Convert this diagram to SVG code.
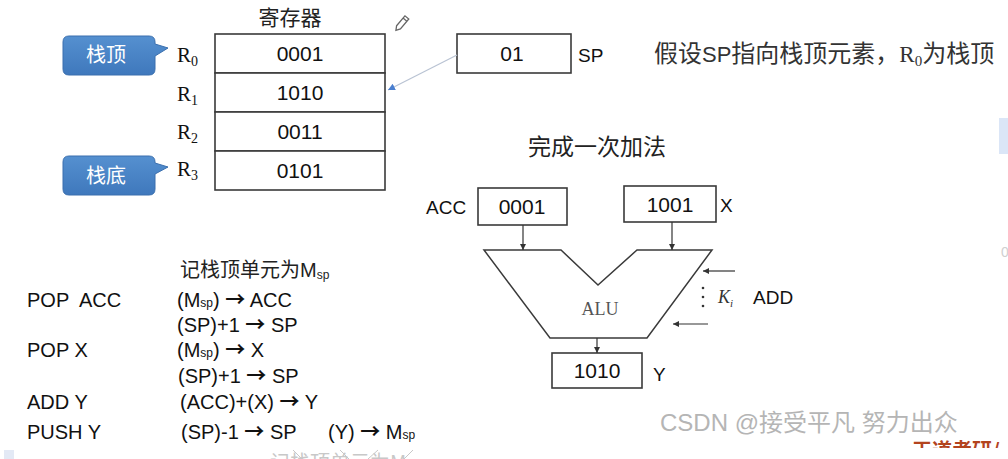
<svg xmlns="http://www.w3.org/2000/svg" width="1008" height="459" viewBox="0 0 1008 459">
<defs>
<linearGradient id="blue" x1="0" y1="0" x2="0" y2="1">
<stop offset="0" stop-color="#5590d0"/>
<stop offset="1" stop-color="#3f78bc"/>
</linearGradient>
<marker id="ah" viewBox="0 0 10 10" refX="10" refY="5" markerWidth="6" markerHeight="6" orient="auto" markerUnits="userSpaceOnUse">
<path d="M0,0 L10,5 L0,10 z" fill="#333"/>
</marker>
<marker id="ahb" viewBox="0 0 10 10" refX="10" refY="5" markerWidth="7" markerHeight="7" orient="auto" markerUnits="userSpaceOnUse">
<path d="M0,0 L10,5 L0,10 z" fill="#4a7fd0"/>
</marker>
<clipPath id="cut"><rect x="900" y="430" width="108" height="18"/></clipPath>
</defs>
<style>
.box{fill:#fff;stroke:#3a3a3a;stroke-width:1.6}
.sans{font-family:"Liberation Sans","Noto Sans CJK SC",sans-serif;fill:#111}
.cjk{font-family:"Noto Sans CJK SC","Liberation Sans",sans-serif;fill:#222}
.serif{font-family:"Liberation Serif","Noto Sans CJK SC",serif;fill:#111}
.val{font-size:21px;text-anchor:middle}
.lbl{font-size:19px}
.code{font-size:20px;white-space:pre}
.ar{font-family:"Noto Sans CJK SC",sans-serif;font-weight:bold;font-size:20px}
.wire{stroke:#333;stroke-width:1.2;fill:none}
.call{fill:url(#blue);stroke:#3a6fae;stroke-width:1}
.ctext{font-family:"Noto Sans CJK SC",sans-serif;font-size:20px;fill:#fff;text-anchor:middle}
</style>
<rect width="1008" height="459" fill="#fff"/>

<!-- background fragments -->
<rect x="999" y="118" width="9" height="36" fill="#dbe6f7"/>
<rect x="4" y="450" width="10" height="9" fill="#e3e9f5"/>
<text x="1001" y="257" class="sans" font-size="14" style="fill:#d0d0d0">0</text>

<!-- title -->
<text x="290" y="25" class="cjk" font-size="21" text-anchor="middle">寄存器</text>

<!-- pencil icon -->
<g id="pencil" transform="translate(403,22) rotate(-50)" fill="none" stroke="#666" stroke-width="1.3">
<path d="M-7,-2.5 L6,-2.5 L6,2.5 L-7,2.5 L-11,0 Z"/>
<line x1="3" y1="-2.5" x2="3" y2="2.5"/>
</g>

<!-- callouts -->
<g id="callout-top">
<path class="call" d="M69,36 H149 Q155,36 155,42 V44 L168,48 L155,56 V69 Q155,75 149,75 H69 Q63,75 63,69 V42 Q63,36 69,36 Z"/>
<text x="106" y="62" class="ctext">栈顶</text>
</g>
<g id="callout-bottom">
<path class="call" d="M69,156 H149 Q155,156 155,162 V163 L168,167 L155,174 V189 Q155,195 149,195 H69 Q63,195 63,189 V162 Q63,156 69,156 Z"/>
<text x="106" y="183" class="ctext">栈底</text>
</g>

<!-- register labels -->
<g id="reg-labels" class="serif" font-size="21">
<text x="177" y="62">R<tspan font-size="14" dy="4">0</tspan></text>
<text x="177" y="101">R<tspan font-size="14" dy="4">1</tspan></text>
<text x="177" y="139">R<tspan font-size="14" dy="4">2</tspan></text>
<text x="177" y="176">R<tspan font-size="14" dy="4">3</tspan></text>
</g>

<!-- registers -->
<g id="reg-R0"><rect class="box" x="215" y="34" width="170" height="39"/><text x="300" y="61" class="sans val">0001</text></g>
<g id="reg-R1"><rect class="box" x="215" y="73" width="170" height="39"/><text x="300" y="100" class="sans val">1010</text></g>
<g id="reg-R2"><rect class="box" x="215" y="112" width="170" height="39"/><text x="300" y="139" class="sans val">0011</text></g>
<g id="reg-R3"><rect class="box" x="215" y="151" width="170" height="39"/><text x="300" y="178" class="sans val">0101</text></g>

<!-- SP -->
<g id="sp">
<rect class="box" x="457" y="34" width="114" height="39"/>
<text x="512" y="61" class="sans val">01</text>
<text x="578" y="62" class="sans lbl">SP</text>
</g>
<text x="654" y="62" class="cjk" font-size="24" style="fill:#333">假设<tspan font-family="Liberation Sans" font-size="22">SP</tspan>指向栈顶元素，<tspan font-family="Liberation Serif" font-size="23">R</tspan><tspan font-family="Liberation Serif" font-size="15" dy="4">0</tspan><tspan dy="-4">为栈顶</tspan></text>

<!-- ALU section -->
<text x="597" y="155" class="cjk" font-size="23" text-anchor="middle">完成一次加法</text>
<g id="acc">
<text x="426" y="214" class="sans lbl">ACC</text>
<rect class="box" x="478" y="188" width="89" height="37"/>
<text x="522" y="214" class="sans val">0001</text>
</g>
<g id="x">
<rect class="box" x="624" y="186" width="92" height="36"/>
<text x="670" y="212" class="sans val">1001</text>
<text x="720" y="212" class="sans lbl">X</text>
</g>
<g id="alu">
<path d="M484,250 L561,250 L598,285 L637,250 L712,250 L647,338 L550,338 Z" fill="#fff" stroke="#3a3a3a" stroke-width="1.5"/>
<text x="600" y="315" class="serif" font-size="18" text-anchor="middle" style="fill:#555">ALU</text>
</g>
<g id="control">
<circle cx="703" cy="288" r="1.3" fill="#333"/>
<circle cx="703" cy="297" r="1.3" fill="#333"/>
<circle cx="703" cy="306" r="1.3" fill="#333"/>
<text x="718" y="303" class="serif" font-size="18" font-style="italic" style="fill:#333">K<tspan font-size="11" dy="4">i</tspan></text>
<text x="753" y="304" class="sans lbl">ADD</text>
</g>
<g id="y">
<rect class="box" x="552" y="353" width="90" height="35"/>
<text x="597" y="378" class="sans val">1010</text>
<text x="653" y="381" class="sans lbl">Y</text>
</g>

<!-- connectors -->
<g id="connectors">
<line x1="457" y1="55" x2="388" y2="90" stroke="#b9c3d3" stroke-width="1.2" marker-end="url(#ahb)"/>
<line class="wire" x1="523" y1="225" x2="523" y2="250" marker-end="url(#ah)"/>
<line class="wire" x1="672" y1="222" x2="672" y2="250" marker-end="url(#ah)"/>
<line class="wire" x1="597" y1="338" x2="597" y2="353" marker-end="url(#ah)"/>
<line class="wire" x1="735" y1="271" x2="703" y2="271" marker-end="url(#ah)"/>
<line class="wire" x1="708" y1="324" x2="673" y2="324" marker-end="url(#ah)"/>
</g>

<!-- instruction list -->
<g id="code">
<text x="180" y="277" class="cjk" font-size="20">记栈顶单元为<tspan font-family="Liberation Sans" font-size="20">M</tspan><tspan font-family="Liberation Sans" font-size="12" dy="2">sp</tspan></text>
<text x="27" y="307" class="sans code">POP  ACC</text>
<text x="177" y="307" class="sans code">(M<tspan font-size="12">sp</tspan>) <tspan class="ar">→</tspan> ACC</text>
<text x="177" y="332" class="sans code">(SP)+1 <tspan class="ar">→</tspan> SP</text>
<text x="27" y="357" class="sans code">POP X</text>
<text x="177" y="357" class="sans code">(M<tspan font-size="12">sp</tspan>) <tspan class="ar">→</tspan> X</text>
<text x="178" y="383" class="sans code">(SP)+1 <tspan class="ar">→</tspan> SP</text>
<text x="27" y="409" class="sans code">ADD Y</text>
<text x="180" y="409" class="sans code">(ACC)+(X) <tspan class="ar">→</tspan> Y</text>
<text x="27" y="439" class="sans code">PUSH Y</text>
<text x="181" y="439" class="sans code">(SP)-1 <tspan class="ar">→</tspan> SP</text>
<text x="328" y="439" class="sans code">(Y) <tspan class="ar">→</tspan> M<tspan font-size="12">sp</tspan></text>
</g>

<!-- watermark and cut-off fragments -->
<text x="660" y="431" font-family="Liberation Sans,Noto Sans CJK SC,sans-serif" font-size="24" fill="#b5b5b5">CSDN @接受平凡 努力出众</text>
<text x="912" y="458" clip-path="url(#cut)" font-family="Noto Sans CJK SC,sans-serif" font-size="20" font-weight="bold" fill="#b3441e">王道考研/</text>
<text x="270" y="470" font-family="Noto Sans CJK SC,sans-serif" font-size="20" fill="#c8c8c8">记栈顶单元为M</text>
<g stroke="#c8c8c8" stroke-width="1" fill="none">
<line x1="293" y1="450" x2="302" y2="459"/>
<line x1="340" y1="450" x2="349" y2="459"/>
<line x1="368" y1="459" x2="378" y2="450"/>
<line x1="404" y1="459" x2="413" y2="450"/>
</g>
</svg>
